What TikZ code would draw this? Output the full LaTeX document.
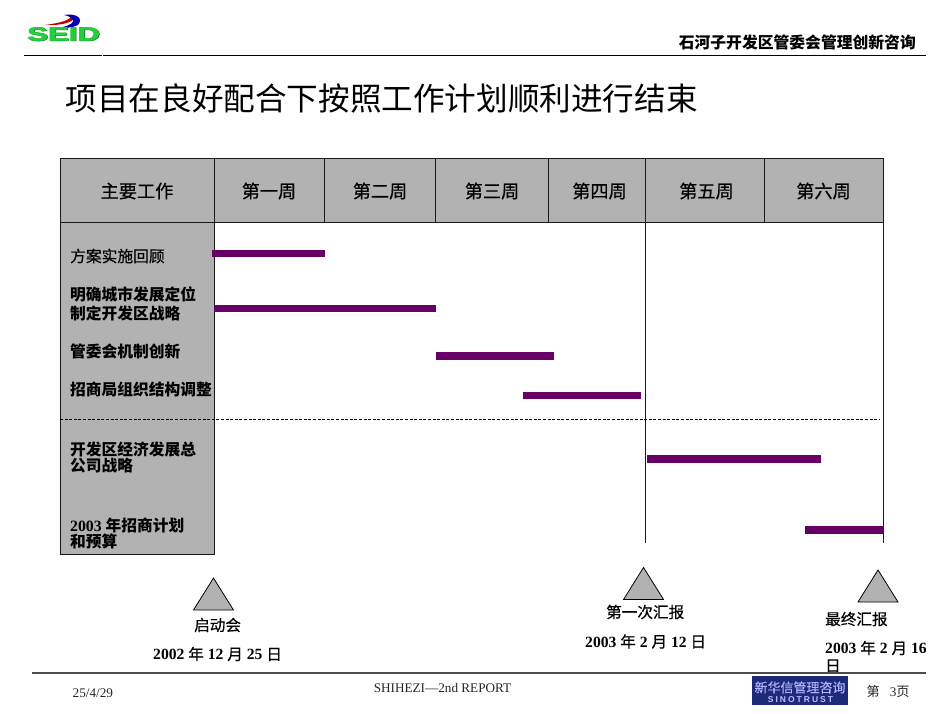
\documentclass[tikz,border=0pt]{standalone}
\usepackage{fontspec}
\setmainfont{Liberation Serif}
\newfontfamily\cjk{Noto Sans CJK SC}
\newfontfamily\cjkm[FakeBold=0.35]{Noto Sans CJK SC}
\newfontfamily\sans{Liberation Sans}
\newfontfamily\sansheavy[FakeBold=2.2]{Liberation Sans Bold}
\definecolor{cellgray}{HTML}{B2B2B2}
\definecolor{barpurple}{HTML}{660066}
\definecolor{seidgreen}{HTML}{22D03C}
\definecolor{seiddark}{HTML}{0F6E20}
\definecolor{sinoblue}{HTML}{1C2A78}
\tikzset{
  rowlabel/.style={anchor=north west,inner sep=0pt,align=left,font=\cjk\bfseries\fontsize{15.75}{15.5}\selectfont,text=black},
  headcell/.style={font=\cjkm\fontsize{18.2}{20}\selectfont,text=black,inner sep=0pt},
  ganttbar/.style={barpurple,line width=7.5pt},
  grid/.style={line width=0.9pt,draw=black!90},
  tri/.style={fill=cellgray,draw=black,line width=0.8pt,line join=miter},
  milestone/.style={inner sep=0pt,anchor=west,font=\cjkm\fontsize{15.6}{17}\selectfont},
  datelabel/.style={inner sep=0pt,anchor=west,font=\bfseries\fontsize{15.6}{17}\selectfont},
  footer/.style={inner sep=0pt,font=\fontsize{13.2}{15}\selectfont,text=black!85},
}
\newcommand{\cj}[1]{{\mdseries\cjkm #1}}
\begin{document}
\begin{tikzpicture}[x=1pt,y=-1pt]
\useasboundingbox (0,0) rectangle (950,713);
% header
\draw[line width=0.9pt] (24,55.5) -- (102,55.5);
\draw[line width=0.9pt] (103,55.5) -- (926,55.5);
\node[inner sep=0pt,anchor=base east,font=\cjk\bfseries\fontsize{15.8}{18}\selectfont] (client) at (916,48) {石河子开发区管委会管理创新咨询};
% logo
\fill[red!75!black] (45,25) .. controls (60,23) and (72,20) .. (71,15) .. controls (80,20) and (65,26) .. cycle;
\fill[blue!70!black] (64,15) .. controls (76,13) and (84,18) .. (78,25) .. controls (72,28) and (66,28) .. (56,28) .. controls (76,26) and (78,18) .. cycle;
\node[inner sep=0pt,anchor=center,font=\sansheavy\fontsize{24}{24}\selectfont,text=seiddark,xscale=1.3,yscale=0.8] (logoshadow) at (64.3,34.3) {SEID};
\node[inner sep=0pt,anchor=center,font=\sansheavy\fontsize{24}{24}\selectfont,text=seidgreen,xscale=1.3,yscale=0.8] (logo) at (63.5,34) {SEID};
% title
\node[inner sep=0pt,anchor=west,font=\cjk\fontsize{31.6}{34}\selectfont] (title) at (65.5,98.5) {项目在良好配合下按照工作计划顺利进行结束};
% table
\fill[cellgray] (60.5,158.5) rectangle (883,222);
\fill[cellgray] (60.5,222) rectangle (214,554.5);
\draw[grid] (60.5,158.5) rectangle (883,222);
\draw[grid] (60.5,222) -- (60.5,554.5) -- (214,554.5) -- (214,222);
\foreach \x in {214,324.5,435.5,548.5,645,764}{\draw[grid,line width=0.8pt] (\x,158.5) -- (\x,222);}
\draw[line width=0.8pt,black!90] (645,222) -- (645,543);
\draw[line width=0.8pt,black!90] (883,222) -- (883,543);
\draw[dashed,line width=0.7pt,dash pattern=on 3pt off 1.6pt] (60,419.5) -- (880,419.5);
\node[headcell] (h0) at (137,191) {主要工作};
\node[headcell] (h1) at (269,191) {第一周};
\node[headcell] (h2) at (380,191) {第二周};
\node[headcell] (h3) at (492,191) {第三周};
\node[headcell] (h4) at (599.5,191) {第四周};
\node[headcell] (h5) at (706.5,191) {第五周};
\node[headcell] (h6) at (823.5,191) {第六周};
% row labels
\node[rowlabel,font=\cjkm\fontsize{15.75}{15.5}\selectfont] (r1) at (70,248.5) {方案实施回顾};
\node[rowlabel,font=\cjk\bfseries\fontsize{15.75}{19}\selectfont] (r2) at (70,286.5) {明确城市发展定位\\制定开发区战略};
\node[rowlabel] (r3) at (70,343.5) {管委会机制创新};
\node[rowlabel] (r4) at (70,381.5) {招商局组织结构调整};
\node[rowlabel] (r5) at (70,442) {开发区经济发展总\\公司战略};
\node[rowlabel,font=\bfseries\fontsize{15.75}{15.5}\selectfont] (r6) at (70,518) {2003 {\cjk 年招商计划}\\{\cjk 和预算}};
% bars
\draw[ganttbar] (212,253.5) -- (324.5,253.5);
\draw[ganttbar] (214,308.5) -- (435.5,308.5);
\draw[ganttbar] (435.5,356) -- (554,356);
\draw[ganttbar] (522.5,395.5) -- (641,395.5);
\draw[ganttbar] (647,459) -- (820.5,459);
\draw[ganttbar] (805,530) -- (884,530);
% milestones
\draw[tri] (213.5,578) -- (233.5,610) -- (193.5,610) -- cycle;
\draw[tri] (643.5,567.5) -- (663.5,599.5) -- (623.5,599.5) -- cycle;
\draw[tri] (878,570) -- (898,602) -- (858,602) -- cycle;
\node[milestone] (m1) at (194,625) {启动会};
\node[datelabel] (d1) at (153,654) {2002 \cj{年} 12 \cj{月} 25 \cj{日}};
\node[milestone] (m2) at (606,612) {第一次汇报};
\node[datelabel] (d2) at (585,641.5) {2003 \cj{年} 2 \cj{月} 12 \cj{日}};
\node[milestone] (m3) at (825,619) {最终汇报};
\node[datelabel] (d3) at (825,648) {2003 \cj{年} 2 \cj{月} 16};
\node[datelabel] (d3b) at (825,666) {\cj{日}};
% footer
\draw[line width=1.2pt,black!70] (32,673) -- (926,673);
\node[footer,anchor=west] (date) at (72.5,693) {25/4/29};
\node[footer,anchor=center] (rep) at (442.5,687.5) {SHIHEZI—2nd REPORT};
\node[footer,anchor=west] (pg) at (866.5,691.5) {{\cjk 第}\hspace{0.75em}3{\cjk 页}};
\fill[sinoblue] (752,676) rectangle (848,705);
\node[inner sep=0pt,font=\cjkm\fontsize{13}{13}\selectfont,text=white!70!blue] (sino1) at (800,687.5) {新华信管理咨询};
\node[inner sep=0pt,font=\sans\bfseries\fontsize{8.5}{9}\selectfont,text=white!75!blue] (sino2) at (800.5,699.5) {S\hspace{2pt}I\hspace{2pt}N\hspace{2pt}O\hspace{2pt}T\hspace{2pt}R\hspace{2pt}U\hspace{2pt}S\hspace{2pt}T};
\end{tikzpicture}
\end{document}
